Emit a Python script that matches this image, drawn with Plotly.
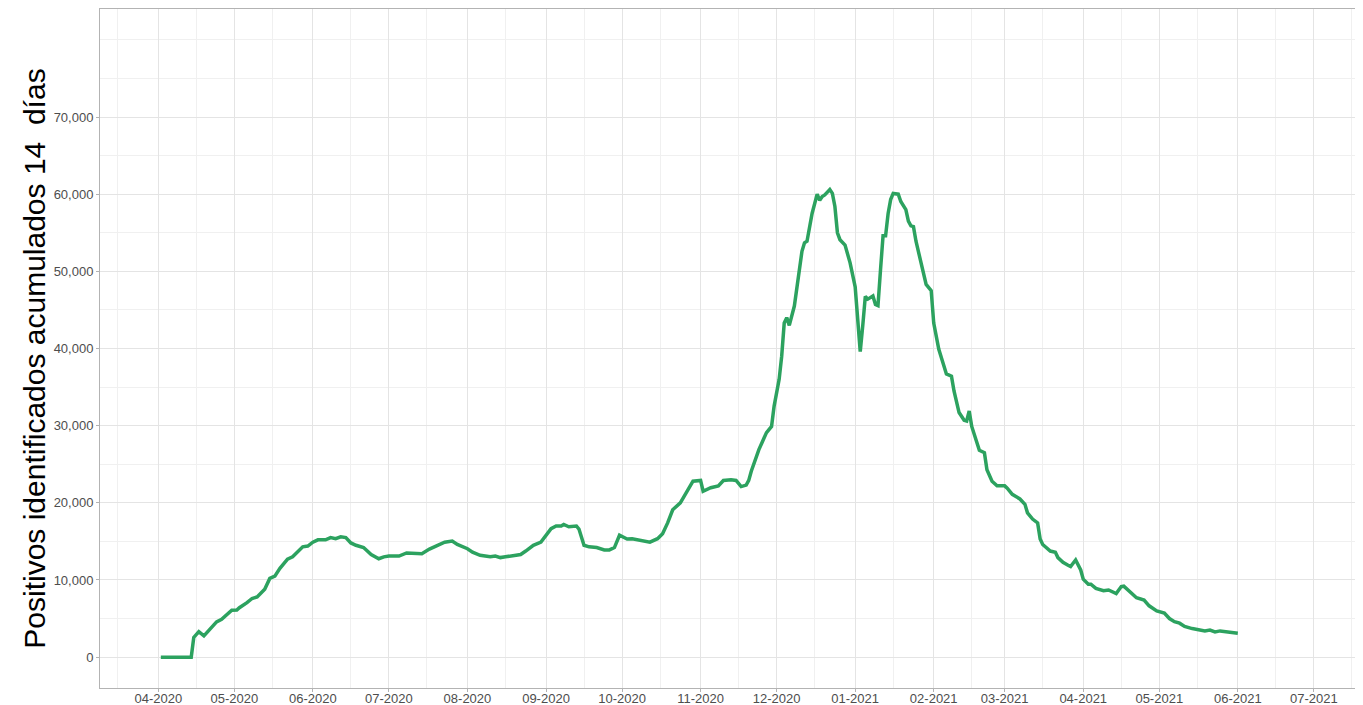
import plotly.graph_objects as go

GREEN = "#2CA25F"
TEXT = "#4D4D4D"
BORDER = "#B3B3B3"
GRID = "#E4E4E4"
GRID_MINOR = "#F0F0F0"

# 14-day accumulated positives
dates = [
    "2020-04-02", "2020-04-14", "2020-04-15", "2020-04-17", "2020-04-19", "2020-04-24",
    "2020-04-26", "2020-04-30", "2020-05-02", "2020-05-03", "2020-05-06", "2020-05-08",
    "2020-05-10", "2020-05-13", "2020-05-15", "2020-05-17", "2020-05-19", "2020-05-22",
    "2020-05-24", "2020-05-28", "2020-05-30", "2020-06-01", "2020-06-03", "2020-06-06",
    "2020-06-08", "2020-06-10", "2020-06-12", "2020-06-14", "2020-06-16", "2020-06-18",
    "2020-06-21", "2020-06-24", "2020-06-27", "2020-06-29", "2020-07-01",
    "2020-07-05", "2020-07-08", "2020-07-11", "2020-07-14", "2020-07-17", "2020-07-20",
    "2020-07-23", "2020-07-26", "2020-07-28", "2020-08-01", "2020-08-03", "2020-08-06",
    "2020-08-10", "2020-08-12", "2020-08-14", "2020-08-16", "2020-08-19", "2020-08-22",
    "2020-08-24", "2020-08-27", "2020-08-30", "2020-09-01", "2020-09-03", "2020-09-05",
    "2020-09-07", "2020-09-08", "2020-09-10", "2020-09-13", "2020-09-14", "2020-09-16",
    "2020-09-18", "2020-09-21", "2020-09-24", "2020-09-26", "2020-09-28", "2020-09-30",
    "2020-10-03", "2020-10-05", "2020-10-10", "2020-10-12", "2020-10-15", "2020-10-17",
    "2020-10-19", "2020-10-21", "2020-10-24", "2020-10-26", "2020-10-28", "2020-10-29",
    "2020-11-01", "2020-11-02", "2020-11-05", "2020-11-08", "2020-11-10", "2020-11-13",
    "2020-11-15", "2020-11-17", "2020-11-19", "2020-11-20", "2020-11-21", "2020-11-23",
    "2020-11-24", "2020-11-27", "2020-11-29", "2020-11-30", "2020-12-02", "2020-12-03",
    "2020-12-04", "2020-12-05", "2020-12-06", "2020-12-08", "2020-12-10", "2020-12-11",
    "2020-12-12", "2020-12-13", "2020-12-15", "2020-12-17", "2020-12-18", "2020-12-19",
    "2020-12-20", "2020-12-22", "2020-12-23", "2020-12-24", "2020-12-25", "2020-12-26",
    "2020-12-28", "2020-12-30", "2021-01-01", "2021-01-02", "2021-01-03", "2021-01-04",
    "2021-01-05", "2021-01-06", "2021-01-08", "2021-01-09", "2021-01-10", "2021-01-11",
    "2021-01-12", "2021-01-13", "2021-01-14", "2021-01-15", "2021-01-16", "2021-01-18",
    "2021-01-19", "2021-01-21", "2021-01-22", "2021-01-23", "2021-01-24", "2021-01-25",
    "2021-01-27", "2021-01-29", "2021-01-31", "2021-02-01", "2021-02-03", "2021-02-05",
    "2021-02-06", "2021-02-08", "2021-02-09", "2021-02-11", "2021-02-13", "2021-02-14",
    "2021-02-15", "2021-02-16", "2021-02-18", "2021-02-19", "2021-02-21", "2021-02-22",
    "2021-02-24", "2021-02-26", "2021-03-01", "2021-03-02", "2021-03-04", "2021-03-07",
    "2021-03-09", "2021-03-10", "2021-03-12", "2021-03-14", "2021-03-15", "2021-03-16",
    "2021-03-19", "2021-03-21", "2021-03-22", "2021-03-24", "2021-03-26", "2021-03-27",
    "2021-03-29", "2021-03-31", "2021-04-01", "2021-04-03", "2021-04-04", "2021-04-06",
    "2021-04-09", "2021-04-11", "2021-04-14", "2021-04-16", "2021-04-17", "2021-04-19",
    "2021-04-22", "2021-04-25", "2021-04-27", "2021-04-30", "2021-05-03", "2021-05-05",
    "2021-05-07", "2021-05-09", "2021-05-11", "2021-05-14", "2021-05-17", "2021-05-19",
    "2021-05-21", "2021-05-23", "2021-05-25", "2021-05-28", "2021-05-30", "2021-06-01",
]
positives = [
    0, 0, 2550, 3300, 2760, 4570,
    4900, 6080, 6100, 6400, 7070, 7600,
    7800, 8800, 10200, 10500, 11500, 12700,
    13000, 14300, 14400, 14900, 15200, 15200,
    15500, 15350, 15600, 15500, 14800, 14500,
    14200, 13300, 12750, 13000, 13100,
    13100, 13500, 13400, 13400, 14000, 14400,
    14900, 15050, 14600, 14050, 13600, 13200,
    13000, 13100, 12900, 13000, 13200, 13300,
    13750, 14500, 14900, 15700, 16650, 17000,
    17000, 17200, 16900, 17000, 16600, 14500,
    14300, 14200, 13900, 13900, 14200, 15800,
    15300, 15350, 15050, 14900, 15350, 16000,
    17400, 19100, 20000, 21100, 22250, 22800,
    22900, 21500, 21950, 22200, 22900, 23000,
    22900, 22100, 22300, 22900, 24100, 25800,
    26900, 29100, 29900, 32500, 36000, 39000,
    43300, 44000, 43000, 45500, 49800, 52600,
    53700, 53900, 57500, 60000, 59200, 59700,
    59900, 60600, 60100, 58400, 55000, 54100,
    53400, 51100, 48000, 43700, 39600, 43000,
    46750, 46400, 46800, 45700, 45550, 50200,
    54600, 54600, 57500, 59300, 60100, 60000,
    59050, 58000, 56500, 55900, 55800, 53900,
    51100, 48300, 47500, 43300, 39900, 37500,
    36700, 36400, 34500, 31700, 30700, 30600,
    31900, 29900, 27800, 26800, 26500, 24300,
    22800, 22200, 22200, 21900, 21100, 20500,
    19800, 18700, 17900, 17400, 15300, 14600,
    13750, 13600, 12900, 12300, 11900, 11750,
    12600, 11300, 10100, 9450, 9450, 8900,
    8600, 8700, 8250, 9150, 9200, 8600,
    7700, 7400, 6650, 6000, 5700, 5000,
    4600, 4400, 3970, 3700, 3550, 3400,
    3500, 3270, 3400, 3270, 3200, 3100,
]

y_ticks = [0, 10000, 20000, 30000, 40000, 50000, 60000, 70000]
y_minor = [5000, 15000, 25000, 35000, 45000, 55000, 65000, 75000, 80000]

fig = go.Figure()
fig.add_trace(go.Scatter(x=dates, y=positives, mode="lines",
                         line=dict(color=GREEN, width=3.5), showlegend=False))

axis_common = dict(
    showline=True, linecolor=BORDER, linewidth=1, mirror=True,
    showgrid=True, gridcolor=GRID, gridwidth=1, zeroline=False,
    ticks="outside", ticklen=3, tickcolor=BORDER, tickwidth=1,
    tickfont=dict(family="Liberation Sans, Arial, sans-serif", size=13, color=TEXT),
    automargin=False,
)

# page body has an 8px margin, so the figure is sized to fit inside the window
fig.update_layout(
    width=1355, height=697,
    paper_bgcolor="white", plot_bgcolor="white",
    margin=dict(l=92, r=1, t=1, b=17),
    font=dict(family="Liberation Sans, Arial, sans-serif", color=TEXT),
    xaxis=dict(**axis_common, type="date", range=["2020-03-09", "2021-07-20"],
               tickmode="linear", tick0="2020-04-01", dtick="M1", tickformat="%m-%Y",
               ticklabelstandoff=-5,
               minor=dict(tickmode="linear", tick0="2020-03-16", dtick="M1",
                          showgrid=True, gridcolor=GRID_MINOR, gridwidth=1, ticks="")),
    yaxis=dict(**axis_common, range=[-4000, 84000], tickmode="array", tickvals=y_ticks,
               tickformat=",d",
               minor=dict(tickmode="array", tickvals=y_minor,
                          showgrid=True, gridcolor=GRID_MINOR, gridwidth=1, ticks="")),
    annotations=[dict(
        text="Positivos identificados acumulados 14\u00a0 días",
        xref="paper", yref="paper", x=-0.0515, y=0.485,
        xanchor="center", yanchor="middle", textangle=-90, showarrow=False,
        font=dict(family="Liberation Sans, Arial, sans-serif", size=30, color="black"),
    )],
)

fig.write_html("out.html")
